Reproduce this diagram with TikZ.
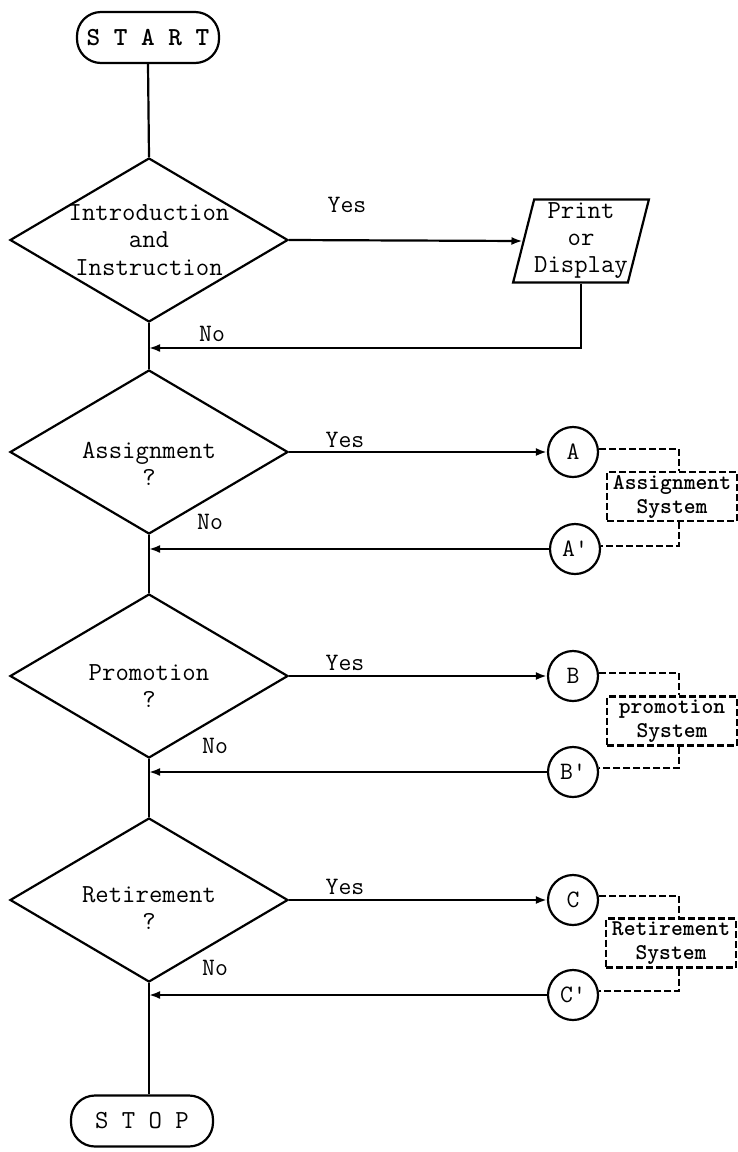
\documentclass[tikz,border=0pt]{standalone}
\usetikzlibrary{shapes.geometric,arrows.meta}
\begin{document}
\begin{tikzpicture}[x=1pt,y=-1pt,line width=2.2pt,
  txt/.style={font=\ttfamily\fontsize{26}{27.5}\selectfont,align=center,inner sep=0pt},
  lbl/.style={font=\ttfamily\fontsize{25}{26}\selectfont,inner sep=0pt},
  term/.style={draw,rectangle,rounded corners=24pt,minimum width=142pt,minimum height=51pt,font=\ttfamily\fontsize{26}{27}\selectfont,inner sep=0pt},
  dec/.style={draw,diamond,minimum width=278pt,minimum height=164pt,inner sep=0pt},
  io/.style={draw,trapezium,trapezium left angle=74.5,trapezium right angle=105.5,trapezium stretches=true,minimum width=130pt,minimum height=83pt,inner sep=0pt,font=\ttfamily\fontsize{26}{27}\selectfont,align=center},
  con/.style={draw,circle,minimum size=50pt,inner sep=0pt,font=\ttfamily\fontsize{25}{26}\selectfont},
  sys/.style={draw,dashed,dash pattern=on 7pt off 3pt,minimum width=130pt,minimum height=49pt,inner sep=0pt,font=\ttfamily\bfseries\fontsize{22.5}{24}\selectfont,align=center},
  dsh/.style={dashed,dash pattern=on 7pt off 3pt},
  arr/.style={-{Latex[length=11pt,width=8pt]}}]
\useasboundingbox (0,0) rectangle (738,1152);

% terminals
\node[term] (start) at (148,37.5) {\bfseries S T A R T};
\node[term] (stop) at (142,1121) {S T O P};

% decisions
\node[dec] (d1) at (149,240) {};
\node[txt] (t1) at (d1) {Introduction\\and\\Instruction};
\node[dec] (d2) at (149,452) {};
\node[txt] (t2) at ([yshift=-12pt]d2.center) {Assignment\\?};
\node[dec] (d3) at (149,676) {};
\node[txt] (t3) at ([yshift=-10pt]d3.center) {Promotion\\?};
\node[dec] (d4) at (149,900) {};
\node[txt] (t4) at ([yshift=-8pt]d4.center) {Retirement\\?};

% print
\node[io] (print) at (581,241) {Print\\or\\Display};

% connectors
\node[con] (A) at (573,452) {A};
\node[con] (Ap) at (575,549) {A'};
\node[con] (B) at (573,676) {B};
\node[con] (Bp) at (573,772) {B'};
\node[con] (C) at (573,900) {C};
\node[con] (Cp) at (573,995) {C'};

% systems
\node[sys] (sa) at (672,496.5) {Assignment\\System};
\node[sys] (sb) at (672,721) {promotion\\System};
\node[sys] (sc) at (671,943) {Retirement\\System};

% main line
\draw (start.south) -- (d1.north);
\draw (d1.south) -- (d2.north);
\draw (d2.south) -- (d3.north);
\draw (d3.south) -- (d4.north);
\draw (d4.south) -- (d4.south |- stop.north);

% yes branches
\draw[arr] (d1.east) -- (print.west);
\draw[arr] (d2.east) -- (A.west);
\draw[arr] (d3.east) -- (B.west);
\draw[arr] (d4.east) -- (C.west);

% no branches
\coordinate (n1) at (149,348);
\draw[arr] (print.south) |- (n1);
\draw[arr] (Ap.west) -- (Ap.west -| d2.south);
\draw[arr] (Bp.west) -- (Bp.west -| d3.south);
\draw[arr] (Cp.west) -- (Cp.west -| d4.south);

% dashed links
\draw[dsh] ([yshift=3pt]A.east) -| ([xshift=7pt]sa.north);
\draw[dsh] ([xshift=7pt]sa.south) |- ([yshift=3pt]Ap.east);
\draw[dsh] ([yshift=3pt]B.east) -| ([xshift=7pt]sb.north);
\draw[dsh] ([xshift=7pt]sb.south) |- ([yshift=4pt]Bp.east);
\draw[dsh] ([yshift=4pt]C.east) -| ([xshift=8pt]sc.north);
\draw[dsh] ([xshift=8pt]sc.south) |- ([yshift=4pt]Cp.east);

% labels
\node[lbl] (y1) at (347,205) {Yes};
\node[lbl] (y2) at (345,440) {Yes};
\node[lbl] (y3) at (345,663) {Yes};
\node[lbl] (y4) at (345,887) {Yes};
\node[lbl] (no1) at (212,334) {No};
\node[lbl] (no2) at (210,522) {No};
\node[lbl] (no3) at (215,746) {No};
\node[lbl] (no4) at (215,968) {No};
\end{tikzpicture}
\end{document}
